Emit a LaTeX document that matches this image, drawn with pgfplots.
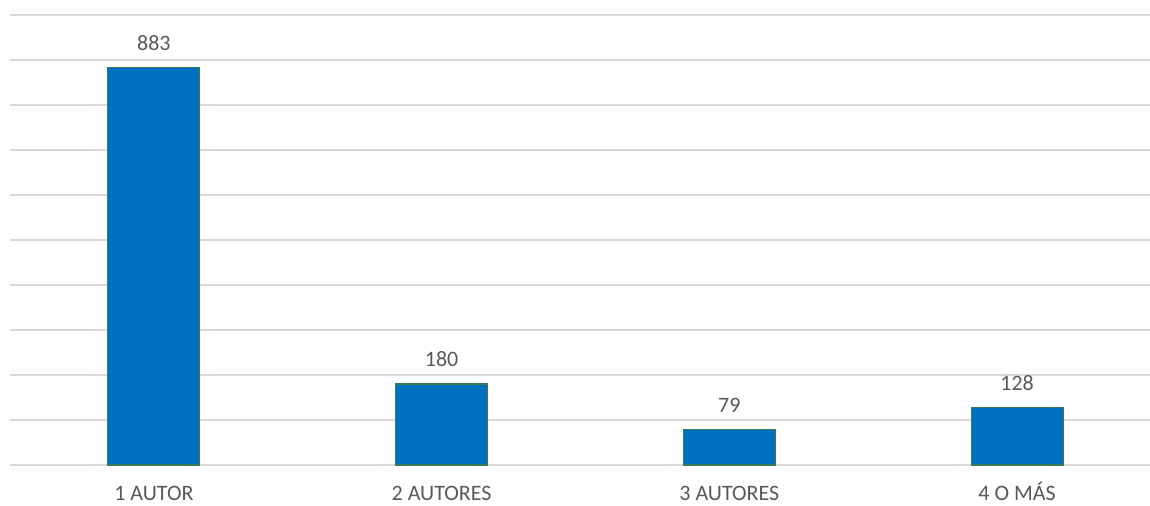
\documentclass[border=0pt]{standalone}
\usepackage{pgfplots}
\pgfplotsset{compat=1.18}
\usepackage{fontspec}
\setmainfont{Carlito}
\definecolor{barblue}{HTML}{0070C0}
\definecolor{baredge}{HTML}{3A7D55}
\definecolor{gridgray}{HTML}{D9D9D9}
\definecolor{txtgray}{HTML}{595959}
\begin{document}
\begin{tikzpicture}
\begin{axis}[
  scale only axis,
  width=855pt, height=337.5pt,
  xmin=-0.5, xmax=3.462,
  ymin=0, ymax=1000,
  ytick={0,100,...,1000},
  yticklabels={},
  xtick={0,1,2,3},
  xticklabels={1 AUTOR,2 AUTORES,3 AUTORES,4 O MÁS},
  major tick length=0pt,
  axis line style={draw=none},
  ymajorgrids,
  grid style={gridgray, line width=1.1pt},
  /pgf/number format/assume math mode=true,
  xticklabel style={anchor=base, yshift=-27pt, inner sep=0pt, font=\fontsize{16.5pt}{19pt}\selectfont, text=txtgray},
  ybar, bar width=69pt,
  nodes near coords,
  nodes near coords style={anchor=south, inner sep=0pt, yshift=12.5pt, font=\fontsize{16.5pt}{19pt}\selectfont, text=txtgray},
  clip=false,
]
\addplot[fill=barblue, draw=baredge, line width=0.8pt] coordinates {(0,883) (1,180) (2,79) (3,128)};
\end{axis}
\pgfresetboundingbox
\useasboundingbox (-7.5pt,-30.75pt) rectangle (855pt,348.75pt);
\end{tikzpicture}
\end{document}
